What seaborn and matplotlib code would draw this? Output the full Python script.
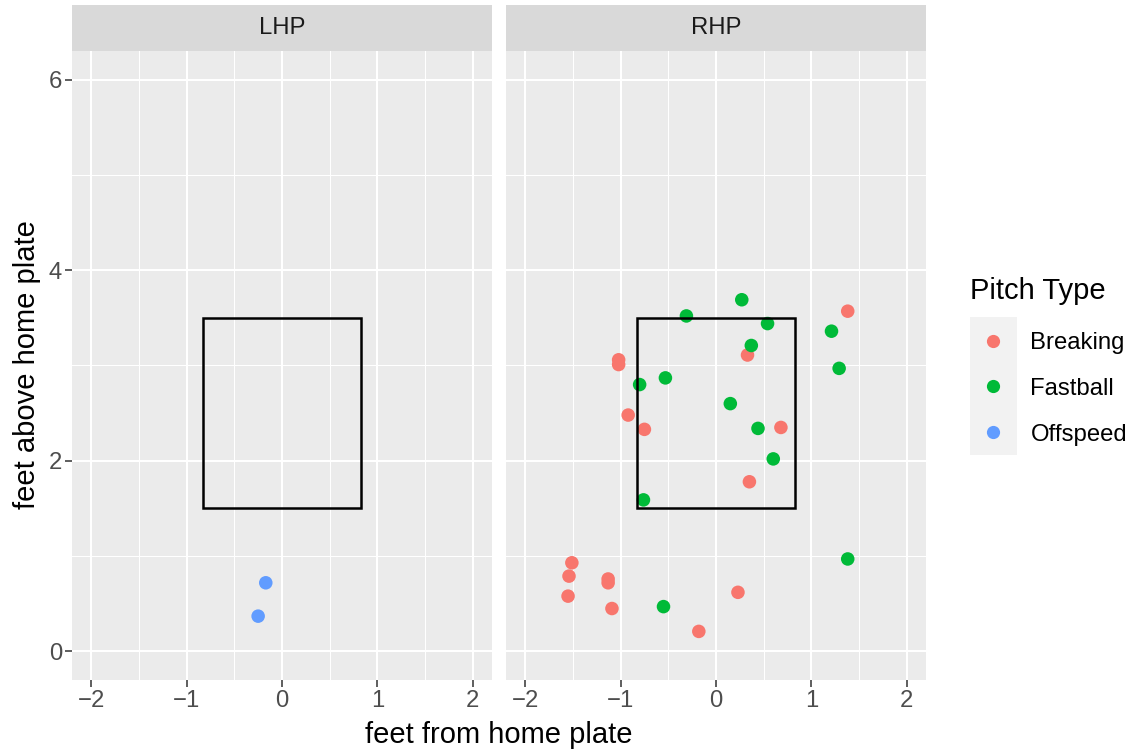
import matplotlib
matplotlib.use("Agg")
import matplotlib.pyplot as plt
from matplotlib.patches import Rectangle
from matplotlib.lines import Line2D
import seaborn as sns
import pandas as pd
import numpy as np

# ---- data ----
panels = ["LHP", "RHP"]
pitch_types = ["Breaking", "Fastball", "Offspeed"]
colors = ["#F8766D", "#00BA38", "#619CFF"]

lhp_type = ["Offspeed", "Offspeed"]
lhp_x = [-0.17, -0.25]
lhp_z = [0.72, 0.37]

rhp_breaking_x = [1.38, 0.33, -1.02, -1.02, -0.92, -0.75, 0.68, 0.35, -1.51, -1.54, -1.13, -1.13, -1.55, -1.09, 0.23, -0.18]
rhp_breaking_z = [3.57, 3.11, 3.06, 3.01, 2.48, 2.33, 2.35, 1.78, 0.93, 0.79, 0.76, 0.72, 0.58, 0.45, 0.62, 0.21]
rhp_fastball_x = [0.27, -0.31, 0.54, 1.21, 0.37, -0.80, -0.53, 1.29, 0.15, 0.44, 0.60, -0.76, 1.38, -0.55]
rhp_fastball_z = [3.69, 3.52, 3.44, 3.36, 3.21, 2.80, 2.87, 2.97, 2.60, 2.34, 2.02, 1.59, 0.97, 0.47]

zone_x = [-0.83, 0.83]
zone_z = [1.5, 3.5]

x_ticks = [-2, -1, 0, 1, 2]
x_tick_labels = ["\u22122", "\u22121", "0", "1", "2"]
y_ticks = [0, 2, 4, 6]

df = pd.concat([
    pd.DataFrame({"stand": "LHP", "pitch": lhp_type, "px": lhp_x, "pz": lhp_z}),
    pd.DataFrame({"stand": "RHP", "pitch": "Breaking", "px": rhp_breaking_x, "pz": rhp_breaking_z}),
    pd.DataFrame({"stand": "RHP", "pitch": "Fastball", "px": rhp_fastball_x, "pz": rhp_fastball_z}),
], ignore_index=True)

palette = dict(zip(pitch_types, colors))

plt.rcParams["font.family"] = ["Liberation Sans", "DejaVu Sans"]

W, H = 1137, 754
fig = plt.figure(figsize=(W / 100, H / 100), dpi=100)

def fx(px):
    return px / W

def fy(py):
    return 1 - py / H

SMALL = 17.2
BIG = 21

panel_left = [72, 506]
panel_w = 420
panel_top, panel_bot = 51, 680
strip_top = 5

for i, name in enumerate(panels):
    l = panel_left[i]
    ax = fig.add_axes([fx(l), fy(panel_bot), panel_w / W, (panel_bot - panel_top) / H])
    ax.set_facecolor("#EBEBEB")
    sub = df[df["stand"] == name]
    sns.scatterplot(data=sub, x="px", y="pz", hue="pitch", palette=palette,
                    hue_order=pitch_types, s=95, linewidth=0, ax=ax, legend=False,
                    zorder=3)
    ax.add_patch(Rectangle((zone_x[0], zone_z[0]), zone_x[1] - zone_x[0], zone_z[1] - zone_z[0],
                           fill=False, edgecolor="black", linewidth=1.8, zorder=4))
    ax.set_xlim(-2.2, 2.2)
    ax.set_ylim(-0.3, 6.3)
    ax.set_xticks(x_ticks)
    ax.set_xticklabels(x_tick_labels)
    ax.set_xticks([-1.5, -0.5, 0.5, 1.5], minor=True)
    ax.set_yticks(y_ticks)
    ax.set_yticks([1, 3, 5], minor=True)
    ax.grid(which="major", color="white", linewidth=1.5)
    ax.grid(which="minor", color="white", linewidth=0.75)
    ax.set_axisbelow(True)
    for s in ax.spines.values():
        s.set_visible(False)
    ax.tick_params(which="major", length=4.7, width=1.1, color="#333333",
                   labelsize=SMALL, labelcolor="#4D4D4D", pad=2.5)
    ax.tick_params(which="minor", length=0)
    ax.set_xlabel("")
    ax.set_ylabel("")
    if i == 1:
        ax.set_yticklabels([])
        ax.tick_params(axis="y", which="major", length=0)

    sax = fig.add_axes([fx(l), fy(panel_top), panel_w / W, (panel_top - strip_top) / H])
    sax.set_facecolor("#D9D9D9")
    sax.set_xticks([])
    sax.set_yticks([])
    for s in sax.spines.values():
        s.set_visible(False)
    sax.text(0.5, 0.5, name, ha="center", va="center", fontsize=SMALL, color="#1A1A1A",
             transform=sax.transAxes)

fig.text(fx(499), fy(735), "feet from home plate", ha="center", va="center", fontsize=BIG, color="black")
fig.text(fx(27), fy(365), "feet above home plate", ha="center", va="center", rotation=90,
         fontsize=BIG, color="black")

# legend
fig.patches.append(Rectangle((fx(970), fy(455)), 47 / W, (455 - 317) / H,
                             transform=fig.transFigure, facecolor="#F2F2F2", edgecolor="none",
                             zorder=0))
handles = [Line2D([0], [0], marker="o", linestyle="", markersize=9.5, markerfacecolor=c,
                  markeredgewidth=0) for c in colors]
leg = fig.legend(handles, pitch_types, title="Pitch Type", loc="upper left",
                 bbox_to_anchor=(fx(970), fy(277)), frameon=False, fontsize=SMALL,
                 title_fontsize=BIG, handlelength=1.95, handletextpad=0.58,
                 labelspacing=1.0, borderpad=0, borderaxespad=0)
leg._legend_box.align = "left"
leg._legend_box.sep += 2.2

fig.savefig("out.png", dpi=100)
